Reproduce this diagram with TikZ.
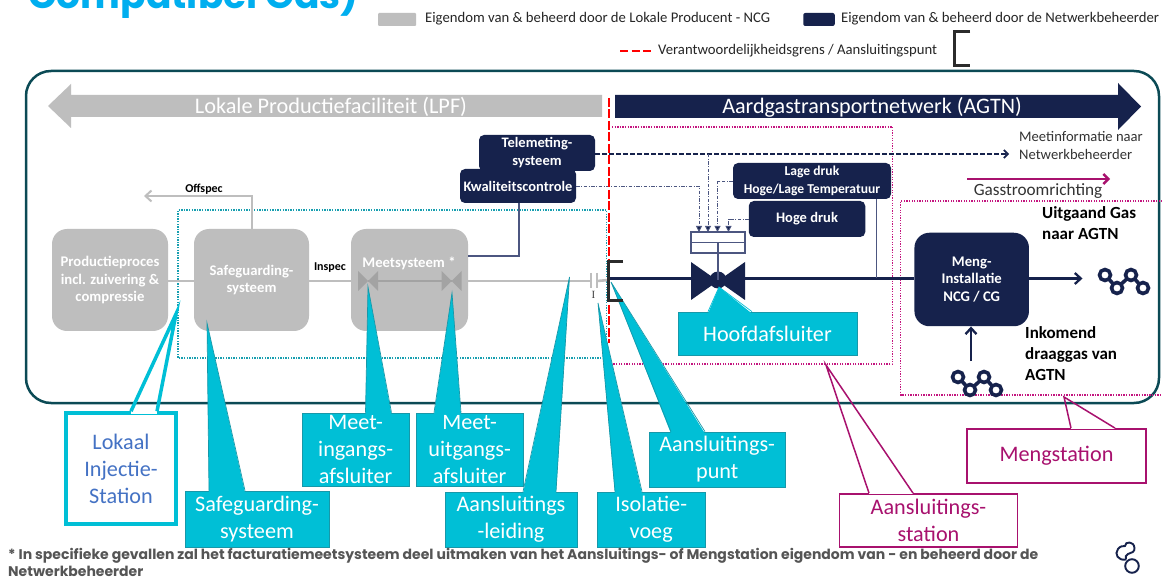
\documentclass[tikz,border=0pt]{standalone}
\usepackage{fontspec}
\setmainfont{Carlito}
\newfontfamily\geom{Poppins}
\newfontfamily\serifi{Liberation Serif}
\usetikzlibrary{arrows.meta,calc}
\definecolor{navy}{HTML}{16224C}
\definecolor{lgray}{HTML}{BEBEBE}
\definecolor{dgray}{HTML}{A3A3A3}
\definecolor{cyanc}{HTML}{00BFD6}
\definecolor{cyanl}{HTML}{1798A9}
\definecolor{magc}{HTML}{A8116E}
\definecolor{dotmag}{HTML}{C4157F}
\definecolor{dotteal}{HTML}{189FB0}
\definecolor{outer}{HTML}{0B4A55}
\definecolor{linkc}{HTML}{4C5680}
\definecolor{titlec}{HTML}{00AEEF}
\definecolor{brk}{HTML}{2B2B2B}
\definecolor{notec}{HTML}{555555}
\definecolor{lokc}{HTML}{4472C4}
\tikzset{
  graybox/.style={fill=lgray,rounded corners=15pt,text=white,font=\fontsize{14.7}{17.5}\selectfont\bfseries,inner sep=0pt,align=center},
  navybox/.style={fill=navy,rounded corners=5pt,text=white,font=\fontsize{14.5}{18}\selectfont\bfseries,inner sep=0pt,align=center},
  cyanbox/.style={fill=cyanc,draw=cyanl,line width=.7pt,text=white,font=\fontsize{22.2}{27}\selectfont,inner sep=0pt,align=center},
  lokbox/.style={fill=white,draw=cyanc,line width=3.5pt,text=lokc,font=\fontsize{22.2}{27}\selectfont,inner sep=0pt,align=center},
  magbox/.style={fill=white,draw=magc,line width=1.8pt,text=magc,font=\fontsize{22.2}{27}\selectfont,inner sep=0pt,align=center},
  lbl/.style={inner sep=0pt,align=left},
  legendtxt/.style={lbl,anchor=west,text=black!85,font=\fontsize{14.7}{15}\selectfont},
  boldlbl/.style={lbl,anchor=west,text=black,font=\fontsize{17}{21}\selectfont\bfseries},
  graypipe/.style={draw=lgray,line width=2.6pt},
  navypipe/.style={draw=navy,line width=2.3pt},
  dotm/.style={draw=dotmag,line width=1.5pt,dash pattern=on 1.3pt off 1.3pt},
  dott/.style={draw=dotteal,line width=1.5pt,dash pattern=on 1.3pt off 1.3pt},
  dashdot/.style={draw=linkc,line width=.9pt,dash pattern=on 3.5pt off 1.5pt on 1pt off 1.5pt},
  thinl/.style={draw=linkc,line width=1.1pt},
  molecule/.pic={
    \draw[navy,line width=3.6pt] (0,0)--(12,13)--(26,0)--(38,13);
    \foreach \mx/\my in {0/0,26/0,12/13,38/13}
      \draw[navy,line width=3.6pt,fill=white] (\mx,\my) circle (5.5);
  }
}
% filled pointer: \pointer{box}{base x1}{base x2}{tip}{stroke}
\newcommand{\pointer}[5]{%
  \fill[cyanc] ([yshift=-2pt]#2,0 |- #1.north) -- (#4) -- ([yshift=-2pt]#3,0 |- #1.north) -- cycle;
  \draw[#5,line width=.7pt,line join=miter] (#2,0 |- #1.north) -- (#4) -- (#3,0 |- #1.north);
}
% outline pointer, its inside transparent: \outlinept{box}{base x1}{base x2}{tip}{stroke}{width}
\newcommand{\outlinept}[6]{%
  \draw[white,line width=#6+1pt] (#2,0 |- #1.north) -- (#3,0 |- #1.north);
  \draw[#5,line width=#6,line join=miter] (#2,0 |- #1.north) -- (#4) -- (#3,0 |- #1.north);
}
\begin{document}
\begin{tikzpicture}[x=1pt,y=-1pt]
\useasboundingbox (0,0) rectangle (1162,577);
\fill[white] (0,0) rectangle (1162,577);

% title, cut by the page edge
\node[inner sep=0pt,anchor=base west,text=titlec,font=\geom\fontsize{37.6}{40}\selectfont\bfseries] (title) at (28,9) {Compatibel Gas)};

% legend
\node[fill=lgray,rounded corners=1pt,minimum width=38pt,minimum height=13pt,inner sep=0pt] (legA) at (397,19.5) {};
\node[legendtxt] (legAt) at (425,19) {Eigendom van \& beheerd door de Lokale Producent - NCG};
\node[fill=navy,rounded corners=2pt,minimum width=31.5pt,minimum height=13pt,inner sep=0pt] (legB) at (819,19.5) {};
\node[legendtxt] (legBt) at (841,19) {Eigendom van \& beheerd door de Netwerkbeheerder};
\coordinate (legR1) at (620,51); \coordinate (legR2) at (651,51);
\draw[red,line width=2.6pt,dash pattern=on 8pt off 3.5pt] (legR1) -- (legR2);
\node[legendtxt] (legCt) at (658,51) {Verantwoordelijkheidsgrens / Aansluitingspunt};
\draw[brk,line width=3pt] (970,32) -- (954.5,32) -- (954.5,66) -- (970,66);

% outer frame
\draw[outer,line width=2.5pt,rounded corners=25pt] (26,71) rectangle (1159,403);

% banner arrows
\fill[lgray] (48,106) -- (71,84) -- (71,95) -- (602,95) -- (602,117) -- (71,117) -- (71,128) -- cycle;
\node[inner sep=0pt,text=white,font=\fontsize{22.3}{24}\selectfont] (lpf) at (331,107) {Lokale Productiefaciliteit (LPF)};
\fill[navy] (1141,106.5) -- (1118,83) -- (1118,95) -- (615,95) -- (615,118) -- (1118,118) -- (1118,130) -- cycle;
\node[inner sep=0pt,text=white,font=\fontsize{22.1}{24}\selectfont] (agtn) at (872,107.5) {Aardgastransportnetwerk (AGTN)};

% dotted stations
\draw[dott] (606.5,358) -- (178,358) -- (178,210) -- (606.5,210) -- cycle;
\draw[dotm] (612,127) -- (892.6,127) -- (892.6,364) -- (612,364);
\draw[dotm] (1165,201) -- (900.6,201) -- (900.6,395) -- (1165,395);

% process boxes
\node[graybox,minimum width=116pt,minimum height=102pt] (prod) at (110,280) {Productieproces\\incl. zuivering \&\\compressie};
\node[graybox,minimum width=115pt,minimum height=102pt] (safe) at (251.5,280) {Safeguarding-\\systeem};
\node[graybox,minimum width=117pt,minimum height=102pt] (meet) at (409.5,280) {};
\node[inner sep=0pt,text=white,font=\fontsize{14.7}{17}\selectfont\bfseries] (meett) at (409,263) {Meetsysteem *};

% gray pipes
\coordinate (valA) at (368,281); \coordinate (valB) at (451.5,281);
\coordinate (iso1) at (591,281); \coordinate (iso2) at (597,281); \coordinate (grens) at (609,280);
\draw[graypipe] (prod.east |- valA) -- (safe.west |- valA);
\draw[graypipe] (safe.east |- valA) -- (meet.west |- valA);
\draw[graypipe] (meet.east |- valA) -- (iso1);
\draw[graypipe] (iso2) -- (grens);
\draw[draw=dgray,line width=2.6pt] (valA) -- (valB);
\draw[lgray,line width=2.4pt] (iso1 |- 0,273) -- (iso1 |- 0,288);
\draw[lgray,line width=2.4pt] (iso2 |- 0,273) -- (iso2 |- 0,288);
\node[inner sep=0pt,font=\serifi\fontsize{11}{11}\selectfont,text=black!75] (isol) at (593.5,295) {I};
\foreach \v in {valA,valB}
  \fill[dgray] ([xshift=-10pt,yshift=10pt]\v) -- ([xshift=10pt,yshift=-10pt]\v) -- ([xshift=10pt,yshift=10pt]\v) -- ([xshift=-10pt,yshift=-10pt]\v) -- cycle;

% offspec / inspec
\coordinate (offend) at (144,196);
\draw[lgray,line width=2pt,-{Straight Barb[length=6pt,width=11pt]}] (safe.north) -- (safe.north |- offend) -- (offend);
\node[inner sep=0pt,font=\fontsize{12}{14}\selectfont\bfseries] (offl) at (204,189) {Offspec};
\node[inner sep=0pt,font=\fontsize{12}{14}\selectfont\bfseries] (insl) at (330,268) {Inspec};

% navy control boxes
\node[navybox,minimum width=116pt,minimum height=36pt] (tele) at (537,153) {Telemeting-\\systeem};
\node[navybox,minimum width=116pt,minimum height=34pt] (kwal) at (518,186) {Kwaliteitscontrole};
\node[navybox,minimum width=158pt,minimum height=36pt,font=\fontsize{13.6}{18}\selectfont\bfseries] (lage) at (812,181) {Lage druk\\Hoge/Lage Temperatuur};
\node[navybox,minimum width=116.5pt,minimum height=36pt] (hoge) at (807,219) {Hoge druk};

% actuator and main valve
\node[draw=linkc,line width=1.1pt,fill=white,minimum width=54pt,minimum height=21pt,inner sep=0pt] (act) at (718,242.5) {};
\draw[linkc,line width=1.1pt] (act.west) -- (act.east);

% main pipe
\coordinate (pipeS) at (609,278.5);
\node[fill=navy,rounded corners=15pt,minimum width=114.5pt,minimum height=93.5pt,inner sep=0pt,text=white,font=\fontsize{14.7}{17.5}\selectfont\bfseries,align=center] (meng) at (971.7,279.5) {Meng-\\Installatie\\NCG / CG};
\coordinate (vc) at (718,280);
\draw[navypipe] (pipeS) -- (meng.west |- pipeS);
\coordinate (outA) at (1082.5,278.5);
\draw[navypipe,-{Straight Barb[length=6pt,width=11pt]}] (meng.east |- outA) -- (outA);
\fill[navy] (691,262) -- (745,300) -- (745,262) -- (691,300) -- cycle;
\fill[navy] (vc) circle (8.5);
\draw[linkc,line width=1.1pt] (act.center) -- (vc);
\draw[thinl] (lage.south -| 876.5,0) -- (876.5,278.5);

% signal lines
\coordinate (measEnd) at (1009,154);
\coordinate (in1) at (699,232); \coordinate (in2) at (708,232); \coordinate (in3) at (717.5,232); \coordinate (in4) at (728.5,232);
\draw[navy,line width=1.7pt,dash pattern=on 5pt off 2pt,-{Straight Barb[length=4pt,width=8pt]}] (tele.east |- measEnd) -- (measEnd);
\draw[dashdot,-{Triangle[length=6pt,width=6pt,fill=navy]}] (kwal.east) -- (in1 |- kwal.east) -- (in1);
\draw[dashdot,-{Triangle[length=6pt,width=6pt,fill=navy]}] (in2 |- measEnd) -- (in2);
\draw[dashdot,-{Triangle[length=6pt,width=6pt,fill=navy]}] (lage.west) -- (in3 |- lage.west) -- (in3);
\draw[dashdot,-{Triangle[length=6pt,width=6pt,fill=navy]}] (hoge.west) -- (in4 |- hoge.west) -- (in4);
\coordinate (kwalK) at (519,256);
\draw[thinl] (kwal.south -| kwalK) -- (kwalK) -- (meet.east |- kwalK);

% right-hand labels
\node[lbl,anchor=north west,text=black!80,font=\fontsize{14.6}{18}\selectfont] (meetinfo) at (1019,131) {Meetinformatie naar\\Netwerkbeheerder};
\coordinate (gsA) at (967,179); \coordinate (gsB) at (1110,179);
\draw[magc,line width=2.4pt,-{Straight Barb[length=5pt,width=10pt]}] (gsA) -- (gsB);
\node[inner sep=0pt,text=black!80,font=\fontsize{17.2}{20}\selectfont] (gsl) at (1038,191) {Gasstroomrichting};
\node[boldlbl,anchor=north west] (uitg) at (1042,206.5) {Uitgaand Gas\\naar AGTN};
\node[boldlbl,anchor=north west] (inko) at (1025,326.5) {Inkomend\\draaggas van\\AGTN};
\pic (molA) at (1105,275) {molecule};
\pic (molB) at (958,377) {molecule};
\coordinate (molBtop) at (971,361);
\draw[navypipe,-{Straight Barb[length=6pt,width=11pt]}] (molBtop) -- (molBtop |- meng.south);

% callouts
\node[cyanbox,minimum width=179pt,minimum height=43pt] (hoofd) at (767.5,333.5) {Hoofdafsluiter};
\coordinate (hoofdT) at (719,287);
\pointer{hoofd}{708}{752}{hoofdT}{cyanc}

\node[lokbox,minimum width=110pt,minimum height=111pt] (lok) at (121,468.5) {Lokaal\\Injectie-\\Station};
\coordinate (lokT) at (176,314);
\outlinept{lok}{131}{157}{lokT}{cyanc}{3.5pt}

\node[cyanbox,minimum width=144pt,minimum height=56pt] (csafe) at (257,519) {Safeguarding-\\systeem};
\coordinate (csafeT) at (207,323);
\pointer{csafe}{209}{245}{csafeT}{cyanl}

\node[cyanbox,minimum width=107.5pt,minimum height=73pt] (cin) at (355.7,449.5) {Meet-\\ingangs-\\afsluiter};
\coordinate (cinT) at (368,287);
\pointer{cin}{365.5}{391.5}{cinT}{cyanl}

\node[cyanbox,minimum width=107.5pt,minimum height=73pt] (cuit) at (469.7,449.5) {Meet-\\uitgangs-\\afsluiter};
\coordinate (cuitT) at (452,293);
\pointer{cuit}{434}{461}{cuitT}{cyanl}

\node[cyanbox,minimum width=132pt,minimum height=55pt] (clei) at (511,519.5) {Aansluitings\\-leiding};
\coordinate (cleiT) at (569.5,277);
\pointer{clei}{523}{556}{cleiT}{cyanl}

\node[cyanbox,minimum width=107.5pt,minimum height=55pt] (ciso) at (651.2,519.5) {Isolatie-\\voeg};
\coordinate (cisoT) at (598,303);
\pointer{ciso}{615}{642}{cisoT}{cyanl}

\node[cyanbox,minimum width=136.5pt,minimum height=55pt] (cpunt) at (717.2,459.5) {Aansluitings-\\punt};
\coordinate (cpuntT) at (611,282);
\pointer{cpunt}{671}{705}{cpuntT}{cyanl}

\node[magbox,minimum width=178pt,minimum height=53pt] (cstat) at (928.5,520.5) {Aansluitings-\\station};
\coordinate (cstatT) at (826,365);
\outlinept{cstat}{869}{913}{cstatT}{magc}{1.5pt}

\node[magbox,minimum width=179pt,minimum height=54pt] (cmeng) at (1056.5,456) {\raisebox{-3pt}{Mengstation}};
\coordinate (cmengT) at (1064,397);
\outlinept{cmeng}{1071}{1115}{cmengT}{magc}{1.5pt}

% responsibility boundary and bracket
\coordinate (redT) at (609,98); \coordinate (redB) at (609,343);
\draw[red,line width=2.8pt,dash pattern=on 9pt off 2.5pt] (redT) -- (redB);
\draw[brk,line width=3pt] (623,261.5) -- (608.5,261.5) -- (608.5,300.7) -- (623,300.7);

% footnote
\node[lbl,anchor=north west,text=notec,font=\geom\fontsize{14}{16.5}\selectfont\bfseries] (note) at (8,548.5) {* In specifieke gevallen zal het facturatiemeetsysteem deel uitmaken van het Aansluitings- of Mengstation eigendom van - en beheerd door de\\Netwerkbeheerder};

% logo
\draw[navy,line width=1.9pt] (1132,566) circle (6.8);
\draw[navy,line width=1.9pt] (1126,559.5) .. controls (1118,561) and (1114,554) .. (1118,549) .. controls (1120,546) and (1123,546) .. (1125,546) .. controls (1125,541) and (1134,541) .. (1134.5,548) .. controls (1135,552) and (1131,553) .. (1128,554) .. controls (1126,555) and (1125,557) .. (1126,559.5);
\end{tikzpicture}
\end{document}
